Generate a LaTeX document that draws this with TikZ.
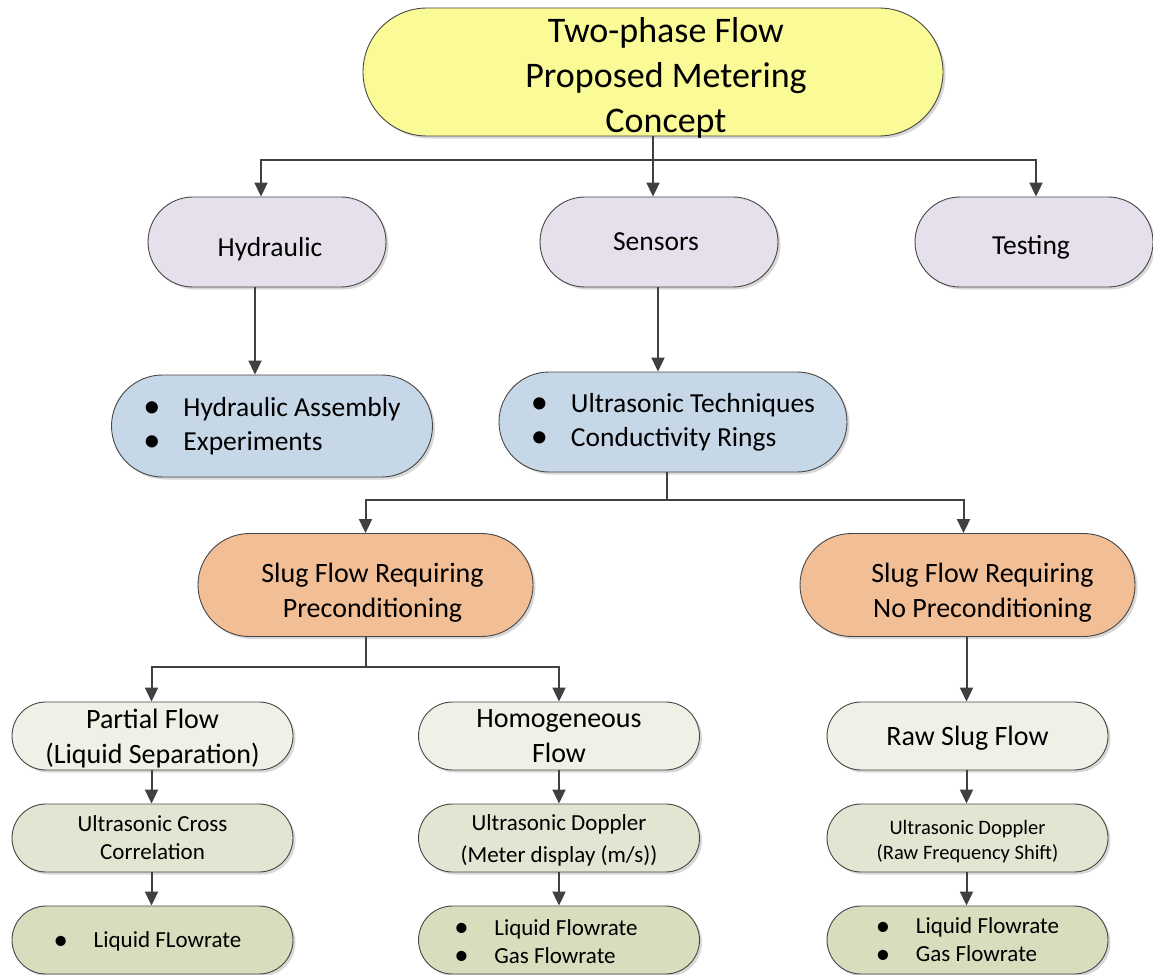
\documentclass[tikz,border=0pt]{standalone}
\usepackage{fontspec}
\setmainfont{Carlito}
\usetikzlibrary{shapes.misc,arrows.meta,shadows}

\definecolor{edgegray}{RGB}{70,70,70}
\definecolor{linkgray}{RGB}{64,64,64}
\definecolor{topfill}{RGB}{250,250,150}
\definecolor{lavfill}{RGB}{229,224,236}
\definecolor{bluefill}{RGB}{198,215,232}
\definecolor{orangefill}{RGB}{242,190,150}
\definecolor{palefill}{RGB}{238,241,230}
\definecolor{midfill}{RGB}{225,230,210}
\definecolor{olivefill}{RGB}{215,222,190}

% list marker with a fixed gap before the item text
\newcommand\itemdot{\makebox[40pt][l]{\raisebox{-1.5pt}[0.5em][0pt]{\scalebox{1.25}{\textbullet}}}}
% invisible strut in a first line: pushes the text block down by half the amount
\newcommand\lowerby[1]{\rule{0pt}{\dimexpr\fontcharht\font`\(+#1\relax}}
% last line set without depth
\newcommand\nodepth[1]{\raisebox{0pt}[\height][0pt]{#1}}

\tikzset{
  box/.style={rounded rectangle, draw=edgegray, line width=0.9pt, inner sep=0pt,
    align=center,
    drop shadow={shadow xshift=2.5pt, shadow yshift=-2.5pt, fill=black!30, opacity=0.5}},
  link/.style={draw=linkgray, line width=2pt},
  arrow/.style={link, -{Triangle[length=14pt,width=13pt]}},
  fbig/.style={font=\fontsize{36}{45}\selectfont},
  fmain/.style={font=\fontsize{27.5}{34}\selectfont},
  frow/.style={font=\fontsize{28}{35}\selectfont},
  fsmall/.style={font=\fontsize{23}{28}\selectfont},
  ftiny/.style={font=\fontsize{20.5}{25}\selectfont},
}

\begin{document}
\begin{tikzpicture}[x=1pt, y=-1pt]
\useasboundingbox (0,0) rectangle (1153,974);

% top level
\node[box, fbig, fill=topfill, minimum width=580pt, minimum height=128pt] (top) at (653,72)
  {\lowerby{5pt}\hspace*{26pt}Two-phase Flow\\\hspace*{26pt}Proposed Metering\\\hspace*{26pt}\nodepth{Concept}};

% second level
\node[box, fmain, fill=lavfill, minimum width=238pt, minimum height=90pt] (hyd) at (267,242) {\lowerby{14pt}\hspace*{6pt}Hydraulic};
\node[box, fmain, fill=lavfill, minimum width=238pt, minimum height=90pt] (sen) at (659,242) {Sensors\hspace*{6pt}};
\node[box, fmain, fill=lavfill, minimum width=238pt, minimum height=90pt] (tst) at (1034,242) {\lowerby{10pt}Testing\hspace*{6pt}};

% third level
\node[box, fmain, fill=bluefill, align=left, minimum width=321pt, minimum height=102pt] (ha) at (272,426)
  {\itemdot Hydraulic Assembly\\\itemdot Experiments};
\node[box, fmain, fill=bluefill, align=left, minimum width=348pt, minimum height=100pt] (ut) at (673,422)
  {\itemdot Ultrasonic Techniques\\\itemdot Conductivity Rings};

% slug flow classes
\node[box, frow, fill=orangefill, minimum width=335pt, minimum height=103pt] (sl) at (365.5,585)
  {\lowerby{14pt}\hspace*{14pt}Slug Flow Requiring\\\hspace*{14pt}Preconditioning};
\node[box, frow, fill=orangefill, minimum width=335pt, minimum height=103pt] (sr) at (967.5,585)
  {\lowerby{14pt}\hspace*{30pt}Slug Flow Requiring\\\hspace*{30pt}No Preconditioning};

% flow conditions
\node[box, frow, fill=palefill, minimum width=281pt, minimum height=68pt] (pf) at (152.5,736)
  {\lowerby{4pt}Partial Flow\\(Liquid Separation)};
\node[box, frow, fill=palefill, minimum width=281pt, minimum height=68pt] (hf) at (559,736)
  {Homogeneous\\Flow};
\node[box, frow, fill=palefill, minimum width=281pt, minimum height=68pt] (rs) at (967.5,736)
  {\lowerby{4pt}Raw Slug Flow};

% measurement methods
\node[box, fsmall, fill=midfill, minimum width=281pt, minimum height=68pt] (uc) at (152.5,838)
  {Ultrasonic Cross\\Correlation};
\node[box, font=\fontsize{23}{32}\selectfont, fill=midfill, minimum width=281pt, minimum height=68pt] (ud) at (559,838)
  {\lowerby{3pt}Ultrasonic Doppler\\(Meter display (m/s))};
\node[box, ftiny, fill=midfill, minimum width=281pt, minimum height=68pt] (ur) at (967.5,838)
  {\lowerby{6pt}Ultrasonic Doppler\\(Raw Frequency Shift)};

% outputs
\node[box, fsmall, fill=olivefill, align=left, minimum width=281pt, minimum height=68pt] (lf) at (152.5,940)
  {\lowerby{2pt}\itemdot Liquid FLowrate\hspace*{10pt}};
\node[box, fsmall, fill=olivefill, align=left, minimum width=281pt, minimum height=68pt] (gm) at (559,940)
  {\lowerby{2pt}\itemdot Liquid Flowrate\hspace*{26pt}\\\itemdot Gas Flowrate};
\node[box, fsmall, fill=olivefill, align=left, minimum width=281pt, minimum height=68pt] (gr) at (967.5,940)
  {\itemdot Liquid Flowrate\\\itemdot Gas Flowrate};

% connectors
\coordinate (b1) at (653,160);
\coordinate (b2) at (667,500);
\coordinate (b3) at (366,667);

\draw[link] (top.south) -- (b1);
\draw[arrow] (b1) -| ([xshift=-6pt]hyd.north);
\draw[arrow] (b1) -| ([xshift=2pt]tst.north);
\draw[arrow] (b1) -- (b1 |- sen.north);

\draw[arrow] ([xshift=-12pt]hyd.south) -- ([xshift=-12pt]hyd.south |- ha.north);
\draw[arrow] ([xshift=-1pt]sen.south) -- ([xshift=-1pt]sen.south |- ut.north);

\draw[link] (b2 |- ut.south) -- (b2);
\draw[arrow] (b2) -| (sl.north);
\draw[arrow] (b2) -| ([xshift=-4pt]sr.north);

\draw[link] (b3 |- sl.south) -- (b3);
\draw[arrow] (b3) -| ([xshift=-1pt]pf.north);
\draw[arrow] (b3) -| (hf.north);
\draw[arrow] ([xshift=-1pt]sr.south) -- ([xshift=-1pt]rs.north);

\draw[arrow] ([xshift=-1pt]pf.south) -- ([xshift=-1pt]uc.north);
\draw[arrow] ([xshift=-1pt]uc.south) -- ([xshift=-1pt]lf.north);
\draw[arrow] (hf.south) -- (ud.north);
\draw[arrow] (ud.south) -- (gm.north);
\draw[arrow] ([xshift=-1pt]rs.south) -- ([xshift=-1pt]ur.north);
\draw[arrow] ([xshift=-1pt]ur.south) -- ([xshift=-1pt]gr.north);
\end{tikzpicture}
\end{document}
